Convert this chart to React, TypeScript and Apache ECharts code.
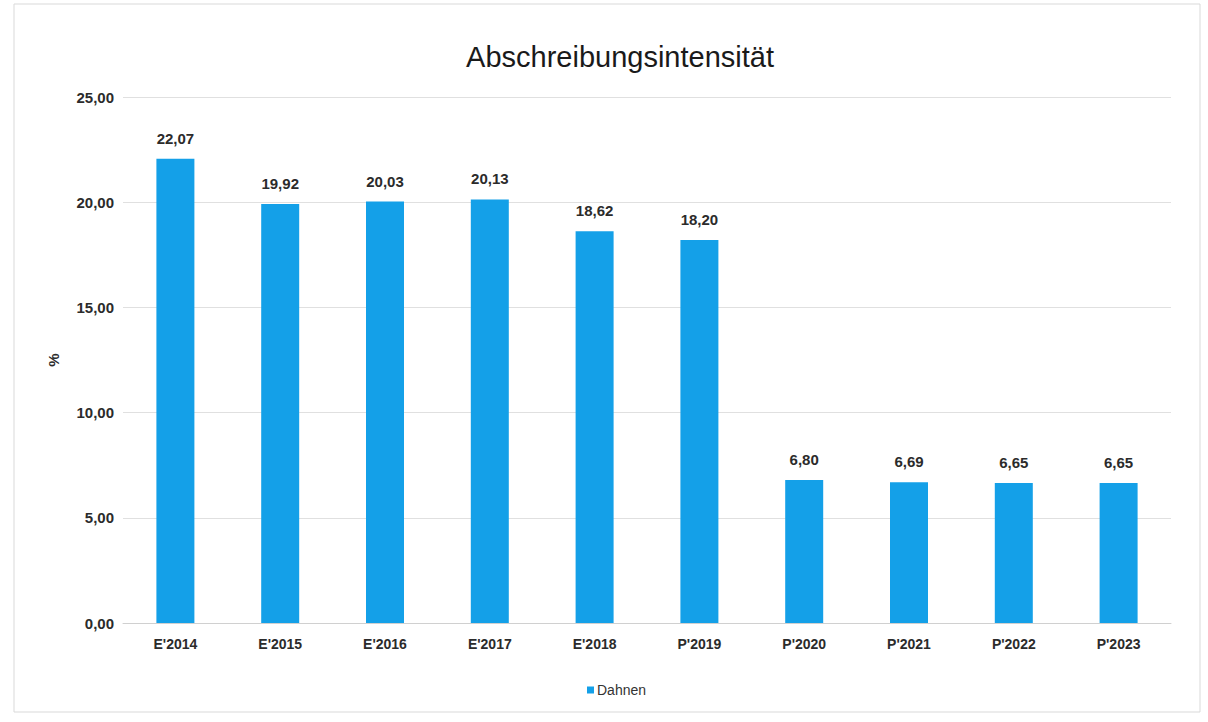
import React, { useEffect, useRef } from "react";
import * as echarts from "echarts";

const categories = ["E'2014", "E'2015", "E'2016", "E'2017", "E'2018", "P'2019", "P'2020", "P'2021", "P'2022", "P'2023"];
const dahnenValues = [22.07, 19.92, 20.03, 20.13, 18.62, 18.2, 6.8, 6.69, 6.65, 6.65];
const yTicks = [0, 5, 10, 15, 20, 25];

const fmt = (v: number) => v.toFixed(2).replace(".", ",");

export default function App() {
  const ref = useRef<HTMLDivElement>(null);
  useEffect(() => {
    if (!ref.current) return;
    const chart = echarts.init(ref.current, undefined, { renderer: "svg" });
    chart.setOption({
      animation: false,
      backgroundColor: "#ffffff",
      textStyle: { fontFamily: "Liberation Sans, Arial, sans-serif" },
      title: {
        text: "Abschreibungsintensität",
        left: 615,
        top: 37,
        textAlign: "center",
        textStyle: { fontSize: 29, fontWeight: "normal", color: "#1a1a1a", fontFamily: "Liberation Sans, Arial, sans-serif" },
      },
      graphic: [
        {
          type: "rect",
          shape: { x: 14, y: 4, width: 1186, height: 708 },
          style: { fill: "none", stroke: "#d9d9d9", lineWidth: 1 },
          silent: true,
        },
      ],
      legend: {
        data: ["Dahnen"],
        left: 582,
        top: 678,
        itemWidth: 7,
        itemHeight: 7,
        itemGap: 4,
        icon: "rect",
        textStyle: { fontSize: 14, color: "#333333", padding: [0, 0, 0, -2] },
      },
      grid: { left: 123, right: 37, top: 97, bottom: 99, containLabel: false },
      xAxis: {
        type: "category",
        data: categories,
        axisLine: { lineStyle: { color: "#d0d0d0" } },
        axisTick: { show: false },
        axisLabel: { fontSize: 14, color: "#2b2b2b", fontWeight: "bold", margin: 14 },
      },
      yAxis: {
        type: "value",
        min: 0,
        max: 25,
        interval: 5,
        name: "%",
        nameLocation: "middle",
        nameGap: 62,
        nameTextStyle: { fontSize: 15, color: "#2b2b2b", fontWeight: "bold" },
        axisLine: { show: false },
        axisTick: { show: false },
        splitLine: { lineStyle: { color: "#e0e0e0" } },
        axisLabel: {
          fontSize: 15,
          color: "#2b2b2b",
          fontWeight: "bold",
          margin: 9,
          formatter: (v: number) => (yTicks.includes(v) ? fmt(v) : ""),
        },
      },
      series: [
        {
          name: "Dahnen",
          type: "bar",
          data: dahnenValues,
          barWidth: 38,
          itemStyle: { color: "#14a0e8" },
          label: {
            show: true,
            position: "top",
            distance: 13,
            fontSize: 15,
            color: "#2b2b2b",
            fontWeight: "bold",
            formatter: (p: any) => fmt(p.value),
          },
        },
      ],
    });
    return () => chart.dispose();
  }, []);
  return <div ref={ref} style={{ position: "fixed", left: 0, top: 0, width: 1208, height: 722 }} />;
}
